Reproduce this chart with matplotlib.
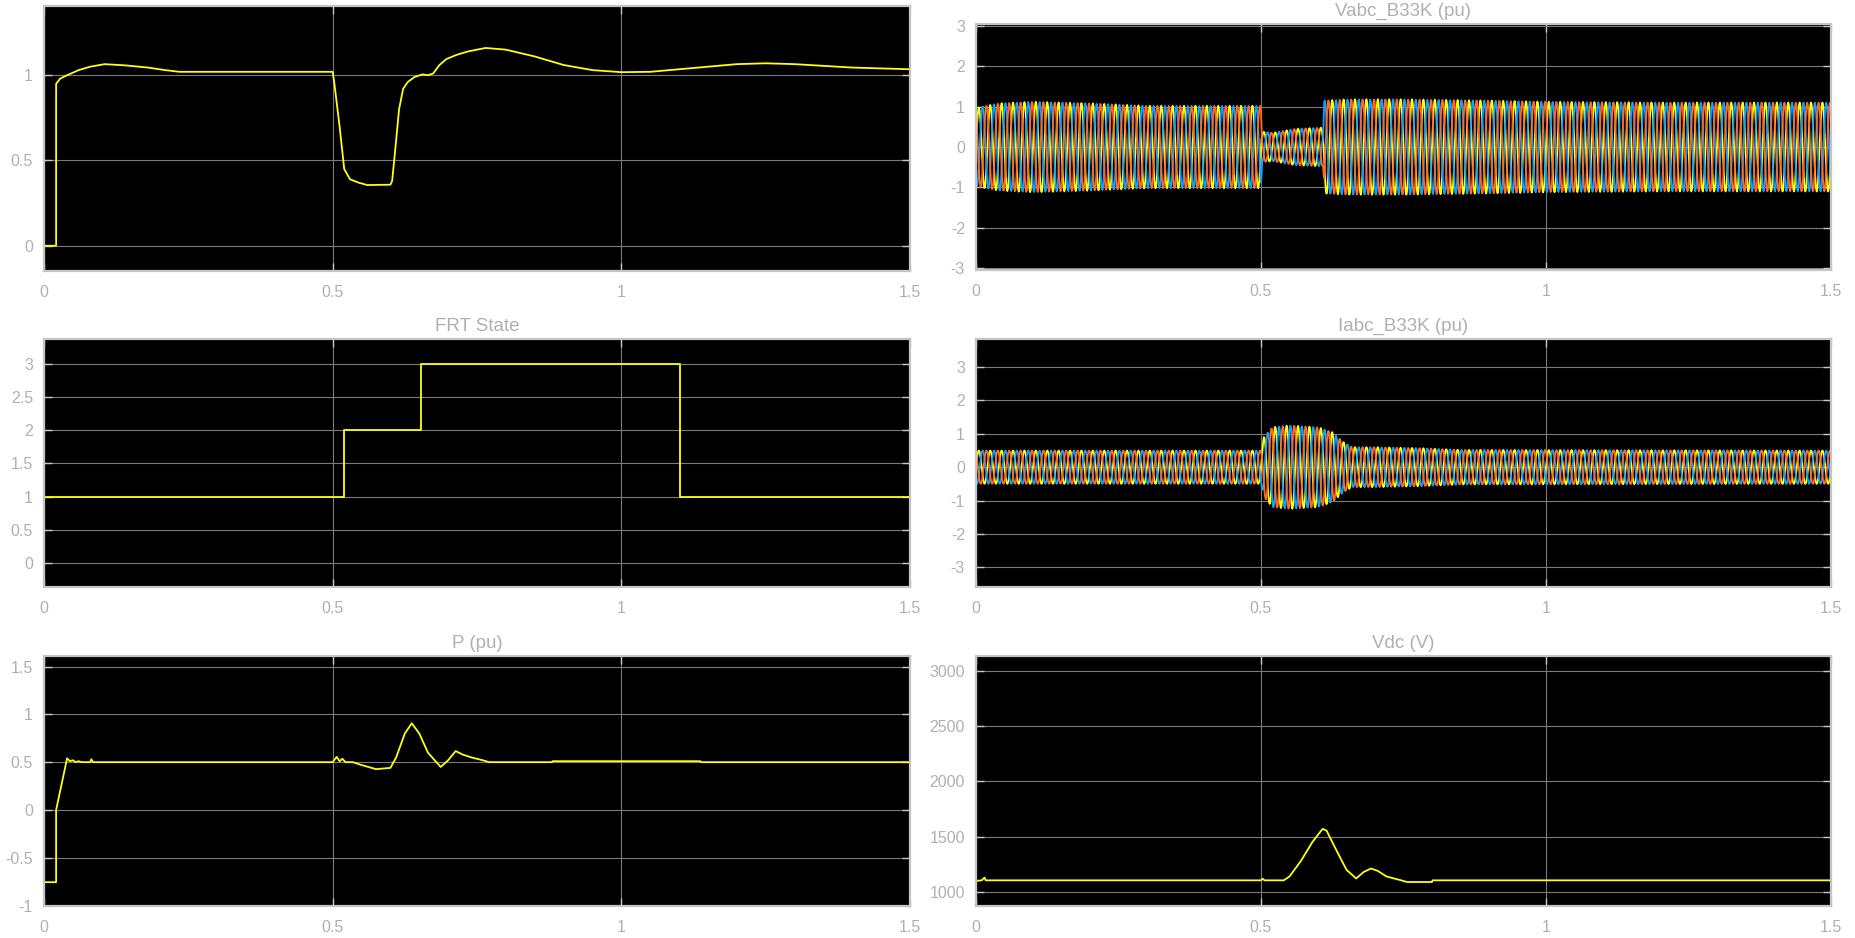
import numpy as np
import matplotlib
matplotlib.use('Agg')
import matplotlib.pyplot as plt

'''
FRT simulation scope screenshot: 3x2 grid of scope panels
'''

# --- data ---
# top left (no title): voltage magnitude (pu)
vmag_t = [0, 0.021, 0.021, 0.028, 0.04, 0.06, 0.08, 0.105, 0.14, 0.18, 0.21, 0.235, 0.5,
          0.503, 0.512, 0.52, 0.53, 0.545, 0.56, 0.6, 0.603, 0.608, 0.615, 0.622, 0.63,
          0.642, 0.656, 0.665, 0.674, 0.685, 0.697, 0.715, 0.735, 0.765, 0.8, 0.85, 0.9,
          0.95, 1.0, 1.05, 1.1, 1.15, 1.2, 1.25, 1.3, 1.35, 1.4, 1.45, 1.5]
vmag_v = [0, 0, 0.95, 0.98, 1.0, 1.03, 1.05, 1.065, 1.058, 1.045, 1.03, 1.02, 1.02,
          0.95, 0.7, 0.45, 0.39, 0.37, 0.356, 0.358, 0.38, 0.55, 0.8, 0.92, 0.96,
          0.99, 1.005, 1.0, 1.01, 1.06, 1.095, 1.12, 1.14, 1.16, 1.15, 1.11, 1.06,
          1.03, 1.018, 1.02, 1.035, 1.05, 1.065, 1.07, 1.065, 1.055, 1.045, 1.04, 1.035]

# FRT State (step signal)
frt_t = [0, 0, 0.52, 0.653, 1.102, 1.5]
frt_v = [0, 1, 2, 3, 1, 1]

# P (pu)
p_t = [0, 0, 0.021, 0.021, 0.04, 0.045, 0.05, 0.055, 0.06, 0.065, 0.08, 0.082, 0.085, 0.5,
       0.507, 0.512, 0.517, 0.522, 0.535, 0.55, 0.575, 0.6, 0.61, 0.625, 0.637, 0.65,
       0.665, 0.687, 0.7, 0.713, 0.725, 0.74, 0.76, 0.771, 0.88, 0.881, 1.137, 1.138, 1.5]
p_v = [0, -0.755, -0.755, 0.0, 0.54, 0.51, 0.52, 0.5, 0.51, 0.5, 0.5, 0.53, 0.5, 0.5,
       0.555, 0.51, 0.535, 0.5, 0.5, 0.47, 0.427, 0.44, 0.55, 0.8, 0.906, 0.8,
       0.6, 0.45, 0.52, 0.616, 0.58, 0.55, 0.52, 0.5, 0.5, 0.51, 0.51, 0.5, 0.5]

# Vdc (V)
vdc_t = [0, 0.01, 0.015, 0.017, 0.02, 0.5, 0.503, 0.506, 0.54, 0.55, 0.57, 0.59, 0.608,
         0.615, 0.63, 0.65, 0.667, 0.68, 0.693, 0.705, 0.72, 0.746, 0.756, 0.8, 0.801, 1.5]
vdc_v = [1100, 1105, 1130, 1105, 1105, 1105, 1120, 1105, 1105, 1140, 1280, 1450, 1570,
         1555, 1400, 1200, 1122, 1180, 1212, 1190, 1140, 1105, 1090, 1090, 1105, 1105]

# three-phase envelopes (peak amplitude, pu)
f_grid = 50.0
ts_scope = 1e-3
vabc_env_t = [0, 0.01, 0.04, 0.1, 0.2, 0.3, 0.5, 0.502, 0.52, 0.56, 0.609, 0.611, 0.65,
              0.75, 0.9, 1.0, 1.2, 1.5]
vabc_env_a = [0.95, 1.0, 1.08, 1.12, 1.08, 1.02, 1.02, 0.38, 0.35, 0.45, 0.48, 1.15, 1.18,
              1.18, 1.15, 1.12, 1.1, 1.1]
iabc_env_t = [0, 0.05, 0.5, 0.505, 0.52, 0.55, 0.6, 0.625, 0.645, 0.66, 0.7, 0.78, 0.85, 1.5]
iabc_env_a = [0.5, 0.5, 0.5, 0.9, 1.2, 1.25, 1.2, 1.05, 0.75, 0.6, 0.6, 0.57, 0.52, 0.5]

xticks = [0, 0.5, 1, 1.5]
xticklabels = ['0', '0.5', '1', '1.5']

# scope colours
YEL = (1, 1, 0.067)
BLU = (0.0745, 0.6235, 1)
ORG = (1, 0.4118, 0.1608)
TXT = '#b0b0b0'

plt.rcParams['font.family'] = ['Liberation Sans', 'DejaVu Sans']

W, H = 1856, 938
fig = plt.figure(figsize=(W / 100, H / 100), dpi=100)
fig.patch.set_facecolor('white')


def make_ax(x0, y0, x1, y1, ylim, yticks, title=None):
    ax = fig.add_axes([x0 / W, 1 - y1 / H, (x1 - x0) / W, (y1 - y0) / H])
    ax.set_facecolor('black')
    ax.set_xlim(0, 1.5)
    ax.set_ylim(*ylim)
    ax.set_xticks(xticks)
    ax.set_xticklabels(xticklabels)
    ax.set_yticks(yticks)
    ax.set_yticklabels([f'{v:g}' for v in yticks])
    ax.grid(True, color='#7a7a7a', linewidth=0.8)
    ax.set_axisbelow(True)
    ax.tick_params(direction='in', length=6, width=1, colors='#c8c8c8',
                   labelcolor=TXT, labelsize=11.5, top=True, right=True)
    ax.tick_params(axis='x', pad=10)
    ax.tick_params(axis='y', pad=8)
    for s in ax.spines.values():
        s.set_color('#c4c4c4')
        s.set_linewidth(1.6)
    if title:
        ax.set_title(title, color=TXT, fontsize=13.5, pad=6)
    return ax


def three_phase(ax, env_t, env_a):
    t = np.arange(0, 1.5 + 1e-9, ts_scope)
    amp = np.interp(t, env_t, env_a)
    for k, c in enumerate([YEL, BLU, ORG]):
        ax.plot(t, amp * np.sin(2 * np.pi * f_grid * t - k * 2 * np.pi / 3),
                color=c, linewidth=1.3)


# top left
ax = make_ax(44, 6, 910, 271, (-0.148, 1.406), [0, 0.5, 1])
ax.plot(vmag_t, vmag_v, color=YEL, linewidth=1.3)

# top right
ax = make_ax(976, 24, 1831, 270, (-3.04, 3.04), [-3, -2, -1, 0, 1, 2, 3], 'Vabc_B33K (pu)')
three_phase(ax, vabc_env_t, vabc_env_a)

# middle left
ax = make_ax(44, 339, 910, 587, (-0.36, 3.37), [0, 0.5, 1, 1.5, 2, 2.5, 3], 'FRT State')
ax.plot(frt_t, frt_v, color=YEL, linewidth=1.3, drawstyle='steps-post')

# middle right
ax = make_ax(976, 339, 1831, 587, (-3.59, 3.84), [-3, -2, -1, 0, 1, 2, 3], 'Iabc_B33K (pu)')
three_phase(ax, iabc_env_t, iabc_env_a)

# bottom left
ax = make_ax(44, 656, 910, 906, (-1.004, 1.61), [-1, -0.5, 0, 0.5, 1, 1.5], 'P (pu)')
ax.plot(p_t, p_v, color=YEL, linewidth=1.3)

# bottom right
ax = make_ax(976, 656, 1831, 906, (873, 3133), [1000, 1500, 2000, 2500, 3000], 'Vdc (V)')
ax.plot(vdc_t, vdc_v, color=YEL, linewidth=1.3)

fig.savefig('out.png', dpi=100, facecolor='white')
